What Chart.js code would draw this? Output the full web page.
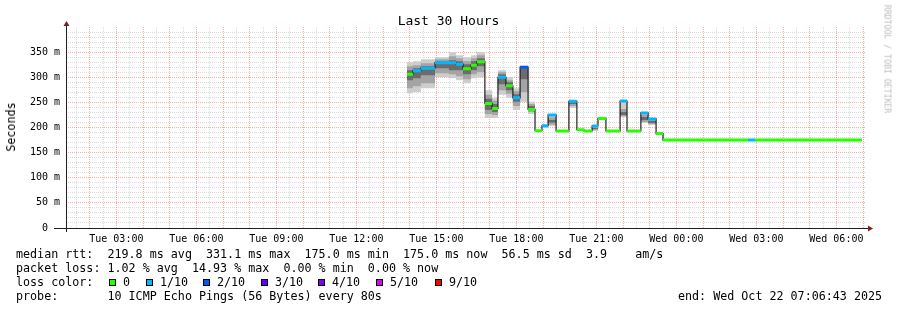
<!DOCTYPE html>
<html>
<head>
<meta charset="utf-8">
<script src="https://cdn.jsdelivr.net/npm/chart.js@4"></script>
<style>
  body { margin: 0; width: 897px; height: 310px; overflow: hidden; position: relative;
         background: #fff; color: #000; font-family: "DejaVu Sans Mono", monospace; }
  #chart { position: absolute; left: 0; top: 0; }
  .txt { position: absolute; white-space: pre; font-size: 11.7px; line-height: 14px; }
  #title { position: absolute; left: 0; width: 897px; top: 14px; text-align: center;
           font-size: 13px; line-height: 13px; }
  #ylabel { position: absolute; left: 11px; top: 127px; font-size: 11.7px; line-height: 12px;
            transform: translate(-50%, -50%) rotate(-90deg); white-space: pre; }
  #rrd { position: absolute; left: 887px; top: 59px; font-size: 8.2px; line-height: 9px;
         color: #bbb; transform: translate(-50%, -50%) rotate(90deg); white-space: pre; }
  .box { position: absolute; width: 5px; height: 5px; border: 1px solid #000; top: 279px; }
</style>
</head>
<body>
<canvas id="chart" width="897" height="310"></canvas>
<div id="title">Last 30 Hours</div>
<div id="ylabel">Seconds</div>
<div id="rrd">RRDTOOL / TOBI OETIKER</div>
<div class="txt" style="left:16px;top:247px">median rtt:  219.8 ms avg  331.1 ms max  175.0 ms min  175.0 ms now  56.5 ms sd  3.9    am/s</div>
<div class="txt" style="left:16px;top:261px">packet loss: 1.02 % avg  14.93 % max  0.00 % min  0.00 % now</div>
<div class="txt" style="left:16px;top:275px">loss color:</div>
<div id="lossLegend"></div>
<div class="txt" style="left:16px;top:289px">probe:       10 ICMP Echo Pings (56 Bytes) every 80s</div>
<div class="txt" style="left:678px;top:289px">end: Wed Oct 22 07:06:43 2025</div>
<script>
// segment start times, hours after Tue 00:00; last segment ends at segEnd
const segStart = [13.90, 14.12, 14.42, 14.95, 15.47, 15.74, 16.00, 16.30, 16.52, 16.82,
                  17.09, 17.31, 17.61, 17.87, 18.14, 18.44, 18.70, 18.96, 19.19, 19.49,
                  19.97, 20.27, 20.54, 20.84, 21.06, 21.36, 21.89, 22.15, 22.67, 22.94,
                  23.24, 23.50, 26.69, 26.95];
const segEnd = 30.96;

// median rtt (ms) and lost pings (of 10) per segment
const median = [306, 313, 318, 329, 329, 326, 317, 324, 331, 248,
                238, 300, 283, 259, 320, 236, 193.5, 203.5, 225, 193,
                252, 195.5, 193, 203, 218, 193, 252.5, 193, 229, 217,
                188, 175, 175, 175];
const loss = [0, 1, 1, 1, 1, 1, 0, 0, 0, 0,
              0, 1, 0, 1, 2, 0, 0, 1, 1, 0,
              1, 0, 0, 1, 0, 0, 1, 0, 1, 1,
              0, 0, 1, 0];

// smoke: spread of the 10 pings (ms)
const smokeOuterHi = [330, 332, 336, 340, 350, 344, 340, 344, 350, 274,
                      259, 314, 300, 278, 319, 251, 193.5, 204, 225, 193,
                      253, 195.5, 193, 203, 218, 193, 253, 193, 229, 217,
                      188, 175, 175, 175];
const smokeOuterLo = [268, 270, 278, 300, 298, 294, 288, 298, 300, 219,
                      219, 265, 259, 235, 251, 227, 193.5, 199, 203, 193,
                      239, 195.5, 193, 193, 218, 193, 221, 193, 209, 205,
                      188, 175, 175, 175];
const smokeMidHi = [322, 324, 328, 336, 342, 338, 332, 338, 344, 265,
                    253, 310, 294, 272, 318, 247, 193.5, 203.5, 220, 193,
                    251, 195.5, 193, 201, 218, 193, 237, 193, 225, 215,
                    188, 175, 175, 175];
const smokeMidLo = [278, 282, 288, 308, 306, 302, 296, 306, 310, 227,
                    225, 274, 267, 243, 270, 231, 193.5, 201, 206, 193,
                    243, 195.5, 193, 195, 218, 193, 223, 193, 211, 207,
                    188, 175, 175, 175];
const smokeInnerHi = [314, 318, 322, 332, 334, 332, 326, 332, 338, 257,
                      247, 306, 290, 266, 318, 243, 193.5, 203.5, 215, 193,
                      251, 195.5, 193, 199, 218, 193, 231, 193, 221, 213,
                      188, 175, 175, 175];
const smokeInnerLo = [294, 298, 304, 318, 314, 314, 306, 314, 322, 235,
                      231, 286, 274, 251, 296, 235, 193.5, 202, 210, 193,
                      247, 195.5, 193, 197, 218, 193, 225, 193, 215, 209,
                      188, 175, 175, 175];

const lossLevels = [0, 1, 2, 3, 4, 5, 9];
const lossLabels = ['0', '1/10', '2/10', '3/10', '4/10', '5/10', '9/10'];
const lossColors = ['#26ff00', '#00b8ff', '#0059ff', '#5e00ff', '#7e00ff', '#dd00ff', '#ff0000'];
const lossBoxX = [109, 146, 203, 261, 318, 376, 435];

const yTickValues = [0, 50, 100, 150, 200, 250, 300, 350];
const yTickLabels = ['0  ', '50 m', '100 m', '150 m', '200 m', '250 m', '300 m', '350 m'];
const xTickHours = [3, 6, 9, 12, 15, 18, 21, 24, 27, 30];
const xTickLabels = ['Tue 03:00', 'Tue 06:00', 'Tue 09:00', 'Tue 12:00', 'Tue 15:00',
                     'Tue 18:00', 'Tue 21:00', 'Wed 00:00', 'Wed 03:00', 'Wed 06:00'];
const timeMin = 1.112, timeMax = 31.112;

const MINOR = 'rgba(143,143,143,0.32)';
const MAJOR = 'rgba(255,40,40,0.4)';
const FONT = 'DejaVu Sans Mono';

function segEndAt(i) {
    return i + 1 < segStart.length ? segStart[i + 1] : segEnd;
}

function steps(values) {
    const pts = [];
    values.forEach((v, i) => {
        pts.push({x: segStart[i], y: v}, {x: segEndAt(i), y: v});
    });
    return pts;
}

function lossSegments(level) {
    const pts = [];
    median.forEach((v, i) => {
        if (loss[i] !== level) return;
        pts.push({x: segStart[i], y: v}, {x: segEndAt(i), y: v}, {x: segEndAt(i), y: null});
    });
    return pts;
}

function isWhole(v, step) {
    return Math.abs(v / step - Math.round(v / step)) < 1e-6;
}

// legend boxes for loss colours
const legendEl = document.getElementById('lossLegend');
lossLabels.forEach((label, i) => {
    const box = document.createElement('div');
    box.className = 'box';
    box.style.left = lossBoxX[i] + 'px';
    box.style.background = lossColors[i];
    legendEl.appendChild(box);
    const txt = document.createElement('div');
    txt.className = 'txt';
    txt.style.left = (lossBoxX[i] + 14) + 'px';
    txt.style.top = '275px';
    txt.textContent = label;
    legendEl.appendChild(txt);
});

const smokeBase = {pointRadius: 0, borderWidth: 0, tension: 0};
const datasets = [
    {...smokeBase, data: steps(smokeOuterHi), fill: '+1', backgroundColor: '#cdcdcd', order: 10},
    {...smokeBase, data: steps(smokeOuterLo), fill: false, order: 11},
    {...smokeBase, data: steps(smokeMidHi), fill: '+1', backgroundColor: '#a4a4a4', order: 8},
    {...smokeBase, data: steps(smokeMidLo), fill: false, order: 9},
    {...smokeBase, data: steps(smokeInnerHi), fill: '+1', backgroundColor: '#6c6c6c', order: 6},
    {...smokeBase, data: steps(smokeInnerLo), fill: false, order: 7},
    {data: steps(median), borderColor: '#202020', borderWidth: 1.2, pointRadius: 0, fill: false, order: 2}
];
lossLevels.forEach((level, i) => {
    datasets.push({
        data: lossSegments(level),
        borderColor: lossColors[i],
        borderWidth: 3,
        borderCapStyle: 'butt',
        pointRadius: 0,
        fill: false,
        spanGaps: false,
        order: 1
    });
});

// axis lines with the small arrow heads
const axisArrows = {
    id: 'axisArrows',
    afterDraw(chart) {
        const {ctx, chartArea: a} = chart;
        const x0 = a.left + 0.5, y0 = a.bottom + 0.5;
        ctx.save();
        ctx.strokeStyle = '#1f1f1f';
        ctx.lineWidth = 1;
        ctx.beginPath();
        ctx.moveTo(a.left - 12, y0);
        ctx.lineTo(a.right + 3, y0);
        ctx.moveTo(x0, a.bottom + 4);
        ctx.lineTo(x0, a.top - 3);
        ctx.stroke();
        ctx.fillStyle = '#801f1f';
        ctx.beginPath();
        ctx.moveTo(x0, a.top - 6);
        ctx.lineTo(x0 - 3, a.top - 1);
        ctx.lineTo(x0 + 3, a.top - 1);
        ctx.closePath();
        ctx.fill();
        ctx.beginPath();
        ctx.moveTo(a.right + 7, y0);
        ctx.lineTo(a.right + 2, y0 - 3);
        ctx.lineTo(a.right + 2, y0 + 3);
        ctx.closePath();
        ctx.fill();
        ctx.restore();
    }
};

new Chart(document.getElementById('chart').getContext('2d'), {
    type: 'line',
    data: {datasets: datasets},
    options: {
        responsive: false,
        animation: false,
        devicePixelRatio: 1,
        layout: {padding: {left: 0, top: 27, right: 31, bottom: 0}},
        plugins: {legend: {display: false}, tooltip: {enabled: false}},
        scales: {
            x: {
                type: 'linear',
                min: timeMin,
                max: timeMax,
                afterBuildTicks: scale => {
                    const ticks = [];
                    for (let k = Math.ceil(timeMin * 2); k / 2 <= timeMax; k++) ticks.push({value: k / 2});
                    scale.ticks = ticks;
                },
                afterFit: scale => { scale.height = 82; },
                grid: {
                    drawTicks: false,
                    lineWidth: 1,
                    color: c => (c.tick && isWhole(c.tick.value, 1)) ? MAJOR : MINOR
                },
                border: {display: false, dash: [1, 1]},
                ticks: {
                    autoSkip: false,
                    maxRotation: 0,
                    minRotation: 0,
                    padding: 5,
                    color: '#000',
                    font: {family: FONT, size: 10},
                    callback: value => {
                        const i = xTickHours.findIndex(h => Math.abs(h - value) < 1e-6);
                        return i >= 0 ? xTickLabels[i] : '';
                    }
                }
            },
            y: {
                min: 0,
                max: 400,
                afterBuildTicks: scale => {
                    const ticks = [];
                    for (let v = 0; v < 400; v += 10) ticks.push({value: v});
                    scale.ticks = ticks;
                },
                afterFit: scale => { scale.width = 66; },
                grid: {
                    drawTicks: false,
                    lineWidth: 1,
                    color: c => (c.tick && isWhole(c.tick.value, 50)) ? MAJOR : MINOR
                },
                border: {display: false, dash: [1, 1]},
                ticks: {
                    autoSkip: false,
                    padding: 6,
                    color: '#000',
                    font: {family: FONT, size: 10},
                    callback: value => {
                        const i = yTickValues.indexOf(value);
                        return i >= 0 ? yTickLabels[i] : '';
                    }
                }
            }
        }
    },
    plugins: [axisArrows]
});
</script>
</body>
</html>
